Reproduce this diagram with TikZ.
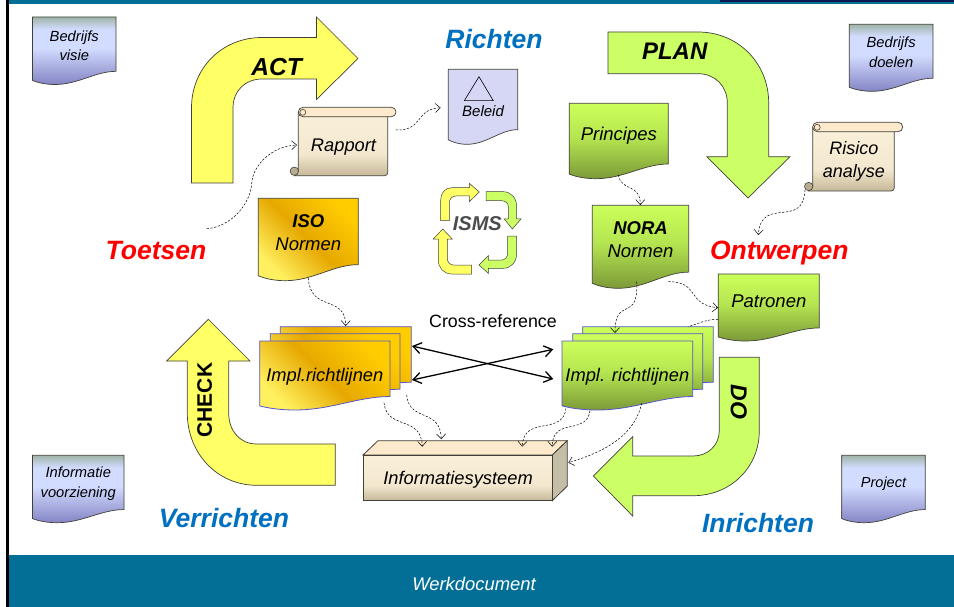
\documentclass[tikz,border=0pt]{standalone}
\usepackage{fontspec}
\setmainfont{Liberation Sans}
\usetikzlibrary{arrows.meta}
\definecolor{teal1}{HTML}{036F97}
\definecolor{navy1}{HTML}{0A1A50}
\definecolor{actyel}{HTML}{FFFF66}
\definecolor{actgrn}{HTML}{CCFF66}
\definecolor{blutitle}{HTML}{0070C0}
\definecolor{redtitle}{HTML}{FF0000}
\definecolor{edge1}{HTML}{404038}
\definecolor{stackedge}{HTML}{5555CC}
\definecolor{belfill}{HTML}{D6D6F5}
\definecolor{dtop}{HTML}{A0B4A8}
\definecolor{dlight}{HTML}{D2DCFF}
\definecolor{dbot}{HTML}{8484C4}
\definecolor{tanbot}{HTML}{C6B898}
\definecolor{tanmid}{HTML}{F3E8CF}
\definecolor{tantop}{HTML}{FAEFD8}
\definecolor{rollfill}{HTML}{FDE9CC}
\definecolor{curlfill}{HTML}{B8AC90}
\definecolor{sidefill}{HTML}{C6BDA6}
\definecolor{gtop}{HTML}{CCFF5A}
\definecolor{gmid}{HTML}{B4E450}
\definecolor{gbot}{HTML}{7C9A38}
\definecolor{gold1}{HTML}{FFCC00}
\definecolor{gold2}{HTML}{E6A800}
\definecolor{gold3}{HTML}{FFF060}
\pgfdeclareverticalshading{bluedoc}{100bp}{color(0bp)=(dbot); color(25bp)=(dbot); color(52bp)=(dlight); color(66bp)=(dlight); color(75bp)=(dtop); color(100bp)=(dtop)}
\pgfdeclareverticalshading{tandoc}{100bp}{color(0bp)=(tanbot); color(25bp)=(tanbot); color(42bp)=(tanmid); color(75bp)=(tantop); color(100bp)=(tantop)}
\pgfdeclareverticalshading{greendoc}{100bp}{color(0bp)=(gbot); color(25bp)=(gbot); color(52bp)=(gmid); color(75bp)=(gtop); color(100bp)=(gtop)}
\tikzset{
  arrowbig/.style={draw=edge1,line width=.7pt,line join=miter},
  bluesheet/.style={draw=edge1,line width=.7pt,shading=bluedoc},
  greensheet/.style={draw=edge1,line width=.7pt,shading=greendoc},
  goldsheet/.style={draw=edge1,line width=.7pt,top color=gold1,bottom color=gold3,middle color=gold2,shading angle=-45},
  greenstack/.style={draw=stackedge,line width=.8pt,shading=greendoc},
  goldstack/.style={draw=stackedge,line width=.8pt,top color=gold1,bottom color=gold3,middle color=gold2,shading angle=-45},
  belsheet/.style={draw=edge1,line width=.7pt,fill=belfill},
  tanbody/.style={draw=edge1,line width=.7pt,shading=tandoc},
  lab/.style n args={2}{inner sep=0pt,outer sep=0pt,align=center,text depth=0pt,font=\fontsize{#1}{#2}\selectfont\itshape},
  title/.style n args={2}{inner sep=0pt,outer sep=0pt,text=#2,text depth=0pt,font=\fontsize{#1}{#1}\selectfont\bfseries\itshape},
  conn/.style={draw=black,line width=.5pt,dash pattern=on 2.2pt off 1.6pt,-{Straight Barb[length=5pt,width=9pt]}},
  plainconn/.style={draw=black,line width=.5pt,dash pattern=on 2.2pt off 1.6pt},
  cross/.style={draw=black,line width=1.3pt,{Straight Barb[length=8pt,width=11pt]}-{Straight Barb[length=8pt,width=11pt]}},
}
% [node options]{name}{sheet style}{x}{y}{w}{h}{text}
\newcommand\docnode[8][]{%
\begin{scope}[shift={(#4,#5)},x=#6pt,y=-#7pt]
\path[#3] (0,0) -- (1,0) -- (1,.805) .. controls (.75,.805) and (.55,1) .. (.27,1) .. controls (.15,1) and (.06,.97) .. (0,.94) -- cycle;
\node[minimum width=#6pt,minimum height=.8*#7pt,inner sep=0pt,outer sep=0pt,#1] (#2) at (.5,.4) {#8};
\end{scope}}
% {x0}{ytop}{x1}{xroll}{ybottom}
\newcommand\scrollshape[5]{%
\path[tanbody] (#1,#2+5) -- (#1,#5-4) -- (#1-4,#5) -- (#3-3,#5) arc[start angle=90,end angle=0,x radius=3pt,y radius=-3pt] -- (#3,#2+5) -- cycle;
\path[draw=edge1,line width=.7pt,fill=rollfill,rounded corners=4.6pt] (#1,#2) rectangle (#4,#2+9.4);
\path[draw=edge1,line width=.6pt,fill=rollfill] (#1+4.5,#2+5) circle[radius=3pt];
\path[draw=edge1,line width=.6pt,fill=curlfill] (#1-4,#5-4.5) circle[radius=4.2pt];
}
\begin{document}
\begin{tikzpicture}[x=1pt,y=-1pt]
\useasboundingbox (0,0) rectangle (954,607);
\fill[white] (0,0) rectangle (954,607);
% frame
\fill[teal1] (8.5,0) rectangle (954,4);
\fill[navy1] (720,0) rectangle (954,1.6);
\fill[black] (6,0) rectangle (8.5,607);
\fill[teal1] (8.5,555) rectangle (954,607);
\node[lab={18.4}{20},text=white] (footer) at (474,584) {Werkdocument};

% big arrows
\path[arrowbig,fill=actyel] (191.5,183) -- (191.5,108) .. controls (191.5,68) and (222,37.5) .. (262,37.5) -- (316.5,37.5) -- (316.5,17) -- (358,58.5) -- (316.5,99.5) -- (316.5,79) -- (262,79) .. controls (245,79) and (233,91) .. (233,108) -- (233,183) -- cycle;
\path[arrowbig,fill=actgrn] (608,32) -- (698,32) .. controls (738,32) and (768.7,63) .. (768.7,103) -- (768.7,156.7) -- (790,156.7) -- (748,198) -- (706.7,156.7) -- (727.3,156.7) -- (727.3,103) .. controls (727.3,86) and (715,73.7) .. (698,73.7) -- (608,73.7) -- cycle;
\path[arrowbig,fill=actyel] (335.3,444) -- (335.3,485.3) -- (256.7,485.3) .. controls (217,485.3) and (187.3,453) .. (187.3,413) -- (187.3,361) -- (166.7,361) -- (208.3,319.3) -- (250,361) -- (228.7,361) -- (228.7,413) .. controls (228.7,431) and (240,444) .. (256.7,444) -- cycle;
\path[arrowbig,fill=actgrn] (719.3,357.3) -- (759.3,357.3) -- (759.3,430.7) .. controls (759.3,468) and (730,495.7) .. (693.3,495.7) -- (632.7,495.7) -- (632.7,516) -- (593.3,476) -- (632.7,436.7) -- (632.7,456) -- (693.3,456) .. controls (708,456) and (719.3,445) .. (719.3,430.7) -- cycle;
\node[title={24.6}{black}] (act) at (276.7,67.3) {ACT};
\node[title={24}{black}] (plan) at (674.7,51.7) {PLAN};
\node[inner sep=0pt,font=\fontsize{21}{21}\selectfont\bfseries,rotate=90] (check) at (204.7,400) {CHECK};
\node[title={23}{black},rotate=-90] (do) at (739,401.7) {DO};

% ISMS cycle
\path[arrowbig,line width=.5pt,fill=actyel] (440.7,220.7) -- (440.7,200) .. controls (440.7,193) and (445,187.7) .. (452,187.7) -- (469.3,187.7) -- (469.3,183.3) -- (479.3,192) -- (469.3,201.7) -- (469.3,196) -- (456,196) .. controls (452,196) and (449.3,199) .. (449.3,203) -- (449.3,220.7) -- cycle;
\path[arrowbig,line width=.5pt,fill=actgrn] (486,191.7) -- (503.3,191.7) .. controls (511,191.7) and (516.7,198) .. (516.7,206.7) -- (516.7,219) -- (521,219) -- (512.3,229) -- (504.3,219) -- (508.3,219) -- (508.3,206.7) .. controls (508.3,203) and (505,200.7) .. (501.7,200.7) -- (486,200.7) -- cycle;
\path[arrowbig,line width=.5pt,fill=actgrn] (507.7,236) -- (516.7,236) -- (516.7,253.3) .. controls (516.7,262) and (511,268.3) .. (503.3,268.3) -- (488.3,268.3) -- (488.3,273.3) -- (479,265) -- (488.3,255.7) -- (488.3,260) -- (501.7,260) .. controls (505,260) and (507.7,257) .. (507.7,253.3) -- cycle;
\path[arrowbig,line width=.5pt,fill=actyel] (471.7,265) -- (471.7,274) -- (451.7,274) .. controls (444,274) and (438.3,268) .. (438.3,260) -- (438.3,239) -- (433.3,239) -- (442.7,229) -- (452.3,239) -- (447.3,239) -- (447.3,258.3) .. controls (447.3,262) and (450,265) .. (453.3,265) -- cycle;
\node[title={20}{black!70}] (isms) at (477.3,223.3) {ISMS};

% corner documents
\docnode[lab={14.7}{18.6},yshift=-1.5pt]{visie}{bluesheet}{32.5}{17}{83.5}{67.5}{Bedrijfs\\visie}
\docnode[lab={14.7}{20},yshift=-1.5pt]{doelen}{bluesheet}{849.3}{24.3}{83.7}{67}{Bedrijfs\\doelen}
\docnode[lab={14.7}{19.4}]{voorz}{bluesheet}{32.5}{455.3}{91.5}{67.4}{Informatie\\voorziening}
\docnode[lab={14.5}{18}]{project}{bluesheet}{841.7}{455.3}{83.6}{67.4}{Project}

% Beleid
\docnode[lab={15}{18},yshift=-11.7pt]{beleid}{belsheet}{448.3}{69.3}{69.4}{75}{Beleid}
\path[draw=black,line width=.6pt] (479,76.7) -- (493.3,100.7) -- (464.3,100.7) -- cycle;

% sheets
\docnode[lab={18.5}{22}]{principes}{greensheet}{569.3}{103.3}{99}{75.4}{Principes}
\docnode[lab={18.5}{22.4},yshift=-1pt]{nora}{greensheet}{592.3}{205.3}{96.4}{83}{\textbf{NORA}\\Normen}
\docnode[lab={18.5}{22.7},yshift=-1.5pt]{iso}{goldsheet}{258.3}{198.3}{100}{82.4}{\textbf{ISO}\\Normen}
\docnode[lab={18.5}{22}]{patronen}{greensheet}{718.3}{274}{101}{67}{Patronen}

% stacks
\docnode{isoback}{goldstack}{280.3}{326.7}{131}{69}{}
\docnode{isomid}{goldstack}{270.3}{333.7}{129.7}{69}{}
\docnode[lab={18.3}{22},yshift=-6pt]{isofront}{goldstack}{259.7}{341}{130.3}{69}{Impl.richtlijnen}
\docnode{grnback}{greenstack}{582.7}{326.7}{130.6}{69}{}
\docnode{grnmid}{greenstack}{572.7}{333.7}{130}{69}{}
\docnode[lab={18.3}{22},yshift=-6pt]{grnfront}{greenstack}{562}{341}{130.7}{69}{Impl. richtlijnen}

% scrolls
\scrollshape{298.3}{107.3}{387.7}{396}{175.7}
\node[lab={18.3}{22},minimum width=89.4pt,minimum height=50pt] (rapport) at (343.5,145) {Rapport};
\scrollshape{812.7}{122.3}{894.3}{902.7}{191}
\node[lab={18}{22.7},minimum width=81.6pt,minimum height=50pt] (risico) at (853.8,159.7) {Risico\\analyse};

% system box
\path[draw=edge1,line width=.8pt,fill=rollfill] (363,455) -- (378,440.7) -- (567.3,440.7) -- (552.3,455) -- cycle;
\path[draw=edge1,line width=.8pt,fill=sidefill] (552.3,455) -- (567.3,440.7) -- (567.3,486) -- (552.3,500.7) -- cycle;
\path[tanbody,line width=.9pt] (363,455) rectangle (552.3,500.7);
\node[lab={18.3}{22},minimum width=189.3pt,minimum height=45.7pt] (system) at (458,478.3) {Informatiesysteem};

% titles
\node[title={26.5}{blutitle}] (richten) at (494,39) {Richten};
\node[title={26.5}{redtitle}] (toetsen) at (156,250.5) {Toetsen};
\node[title={26.5}{redtitle}] (ontwerpen) at (779.3,250) {Ontwerpen};
\node[title={26.5}{blutitle}] (verrichten) at (224,518) {Verrichten};
\node[title={26.5}{blutitle}] (inrichten) at (758,522.7) {Inrichten};
\node[lab={17.8}{20},font=\fontsize{17.8}{20}\selectfont] (crossref) at (493,320.7) {Cross-reference};

% connectors
\draw[conn] ([shift={(50.7,-21.8)}]toetsen.center) .. controls +(25,-2) and +(-1,20) .. ++(45,-45.4) .. controls +(1,-18) and +(-25,1) .. ([shift={(-46.5,0)}]rapport.center);
\draw[conn] ([shift={(52.2,-15)}]rapport.center) .. controls +(28,1) and +(-26,1) .. ([shift={(-42.3,-3.2)}]beleid.center);
\draw[conn] ([shift={(-.5,41.5)}]principes.center) .. controls +(3,17) and +(0,-22) .. ([shift={(-.2,-34.5)}]nora.center);
\draw[conn] ([shift={(-48.8,30.3)}]risico.center) .. controls +(-2,40) and +(3,-40) .. ([shift={(-21,-15)}]ontwerpen.center);
\draw[conn] ([shift={(0,45.2)}]iso.center) .. controls +(2,35) and +(0,-32) .. ([shift={(-.1,-28.3)}]isoback.center);
\draw[conn] ([shift={(-3.8,42.2)}]nora.center) .. controls +(2,42) and +(0,-38) .. ([shift={(-33,-21.3)}]grnback.center);
\draw[conn] ([shift={(27.8,42.2)}]nora.center) .. controls +(32,0) and +(-32,-3) .. ([shift={(-50.8,6.9)}]patronen.center);
\draw[plainconn] ([shift={(-50.8,18.5)}]patronen.center) .. controls +(-12,0) and +(10,-3) .. ([shift={(40.3,-27.6)}]grnback.center);
\draw[conn] ([shift={(59.1,28.1)}]isofront.center) .. controls +(3,28) and +(-1,-32) .. ([shift={(-35.7,-31.6)}]system.center);
\draw[conn] ([shift={(81.8,20.4)}]isofront.center) .. controls +(3,28) and +(-1,-32) .. ([shift={(-16.7,-39)}]system.center);
\draw[conn] ([shift={(-61.4,33.7)}]grnfront.center) .. controls +(-3,28) and +(1,-32) .. ([shift={(64.3,-31.6)}]system.center);
\draw[conn] ([shift={(-37.4,36.1)}]grnfront.center) .. controls +(-3,25) and +(0,-30) .. ([shift={(94.3,-31.6)}]system.center);
\draw[conn] ([shift={(14.3,28.7)}]grnfront.center) .. controls +(-7,32) and +(37,-11) .. ([shift={(110.3,-15.6)}]system.center);
\draw[cross] ([shift={(.7,-8.3)}]isoback.east) -- ([shift={(-8.7,4.4)}]grnfront.west);
\draw[cross] ([shift={(.7,25.7)}]isoback.east) -- ([shift={(-8.7,-25.3)}]grnfront.west);
\end{tikzpicture}
\end{document}
